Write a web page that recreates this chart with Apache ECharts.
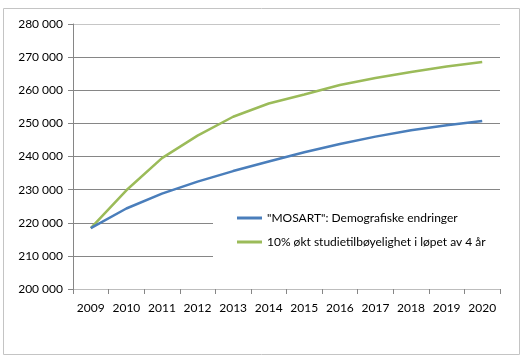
<!DOCTYPE html>
<html>
<head>
<meta charset="utf-8">
<script src="https://cdn.jsdelivr.net/npm/echarts@6/dist/echarts.min.js"></script>
<style>html,body{margin:0;padding:0;background:#fff}#c{width:523px;height:363px}</style>
</head>
<body>
<div id="c"></div>
<script>
const years = ['2009','2010','2011','2012','2013','2014','2015','2016','2017','2018','2019','2020'];
const mosartName = '"MOSART": Demografiske endringer';
const studieName = '10% økt studietilbøyelighet i løpet av 4 år';
const mosart = [218400, 224300, 228800, 232400, 235600, 238500, 241300, 243800, 246000, 247900, 249400, 250700];
const studie = [218400, 229800, 239500, 246300, 252000, 256000, 258700, 261600, 263700, 265500, 267200, 268500];
const yMin = 200000, yMax = 280000, yStep = 10000;

const fmt = v => String(v).replace(/\B(?=(\d{3})+(?!\d))/g, ' ');
const font = 'Lato, "Liberation Sans", sans-serif';
const chart = echarts.init(document.getElementById('c'), null, {renderer: 'canvas'});
chart.setOption({
  animation: false,
  backgroundColor: '#fff',
  textStyle: {fontFamily: font},
  graphic: [{
    type: 'rect', left: 1, top: 6, z: -10,
    shape: {width: 516, height: 346},
    style: {fill: 'none', stroke: '#c4c4c4', lineWidth: 1}
  }],
  grid: {left: 73, right: 23, top: 24, bottom: 74, containLabel: false},
  xAxis: {
    type: 'category', data: years, boundaryGap: true,
    axisLine: {show: true, lineStyle: {color: '#bdbdbd', width: 1}},
    axisTick: {show: true, length: 5, alignWithLabel: false, lineStyle: {color: '#868686'}},
    axisLabel: {color: '#000', fontSize: 12, margin: 13, fontFamily: font, interval: 0},
    splitLine: {show: false}
  },
  yAxis: {
    type: 'value', min: yMin, max: yMax, interval: yStep,
    axisLine: {show: true, lineStyle: {color: '#868686', width: 1}},
    axisTick: {show: true, length: 5, lineStyle: {color: '#868686'}},
    axisLabel: {color: '#000', fontSize: 12, margin: 10, fontFamily: font, formatter: fmt},
    splitLine: {show: true, lineStyle: {color: ['#868686','#868686','#868686','#868686','#868686','#868686','#868686','#868686','#c6c6c6'], width: 1}}
  },
  legend: {
    show: true, orient: 'vertical', left: 213, top: 197,
    backgroundColor: '#fff',
    padding: [15, 22, 15, 24],
    itemGap: 12, itemWidth: 25, itemHeight: 3, icon: 'rect',
    textStyle: {color: '#000', fontSize: 12, fontFamily: font},
    data: [mosartName, studieName]
  },
  series: [
    {name: mosartName, type: 'line', data: mosart, showSymbol: false, symbol: 'none',
     lineStyle: {color: '#4a7ebb', width: 2.5}, itemStyle: {color: '#4a7ebb'}, z: 3},
    {name: studieName, type: 'line', data: studie, showSymbol: false, symbol: 'none',
     lineStyle: {color: '#9bbb59', width: 2.5}, itemStyle: {color: '#9bbb59'}, z: 2}
  ]
});
</script>
</body>
</html>
